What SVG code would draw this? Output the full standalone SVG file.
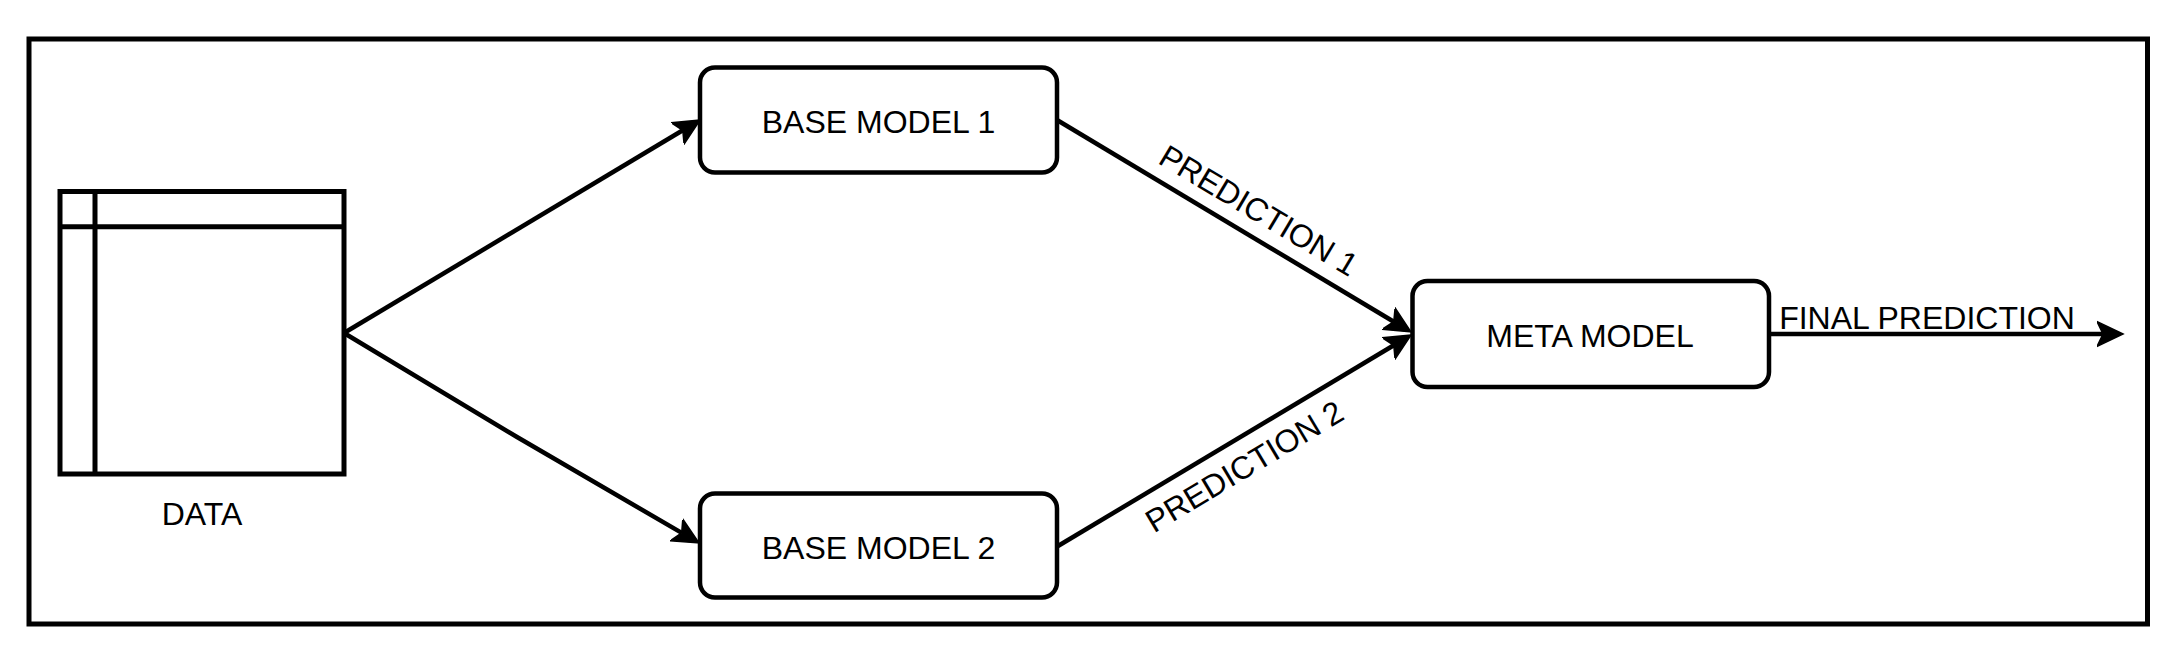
<svg xmlns="http://www.w3.org/2000/svg" width="2184" height="659" viewBox="0 0 2184 659">
<style>
.frame{fill:#fff;stroke:#000;stroke-width:5}
.box{fill:#fff;stroke:#000;stroke-width:4.5}
.tbl{fill:#fff;stroke:#000;stroke-width:5}
.edge{fill:none;stroke:#000;stroke-width:4.5}
.lbl{font-family:"Liberation Sans",Arial,Helvetica,sans-serif;font-size:32px;fill:#000}
.mid{text-anchor:middle}
</style>
<defs>
<marker id="arr" viewBox="0 -14 28 28" markerWidth="28" markerHeight="28" refX="6" refY="0" markerUnits="userSpaceOnUse" orient="auto">
<path d="M26,0 L0,-12.5 L6,0 L0,12.5 Z" fill="#000" stroke="#000" stroke-width="1.5" stroke-linejoin="miter"/>
</marker>
</defs>
<rect class="frame" x="29" y="39" width="2118.5" height="585"/>
<g id="edges">
<path class="edge" d="M344,333 L682.8,130.3" marker-end="url(#arr)"/>
<path class="edge" d="M344,333 L517,437 L681.7,532.9" marker-end="url(#arr)"/>
<path class="edge" d="M1057,120 L1393.8,321.7" marker-end="url(#arr)"/>
<path class="edge" d="M1058,546 L1393.8,345.3" marker-end="url(#arr)"/>
<path class="edge" d="M1769,334 L2103,334" marker-end="url(#arr)"/>
<text class="lbl mid" transform="translate(1253,220) rotate(30.8)">PREDICTION 1</text>
<text class="lbl mid" transform="translate(1250,476) rotate(-30.9)">PREDICTION 2</text>
<text class="lbl mid" x="1927" y="329">FINAL PREDICTION</text>
</g>
<g id="data">
<rect class="tbl" x="60" y="191.5" width="284" height="282.5"/>
<line class="tbl" x1="95" y1="191.5" x2="95" y2="474"/>
<line class="tbl" x1="60" y1="226.7" x2="344" y2="226.7"/>
<text class="lbl mid" x="202" y="525">DATA</text>
</g>
<g id="base1">
<rect class="box" x="700" y="67.5" width="357" height="105" rx="15" ry="15"/>
<text class="lbl mid" x="878.5" y="132.5">BASE MODEL 1</text>
</g>
<g id="base2">
<rect class="box" x="700" y="493.5" width="357" height="104" rx="15" ry="15"/>
<text class="lbl mid" x="878.5" y="558.5">BASE MODEL 2</text>
</g>
<g id="meta">
<rect class="box" x="1412.5" y="281" width="356.5" height="106" rx="15" ry="15"/>
<text class="lbl mid" x="1590" y="346.5">META MODEL</text>
</g>
</svg>
